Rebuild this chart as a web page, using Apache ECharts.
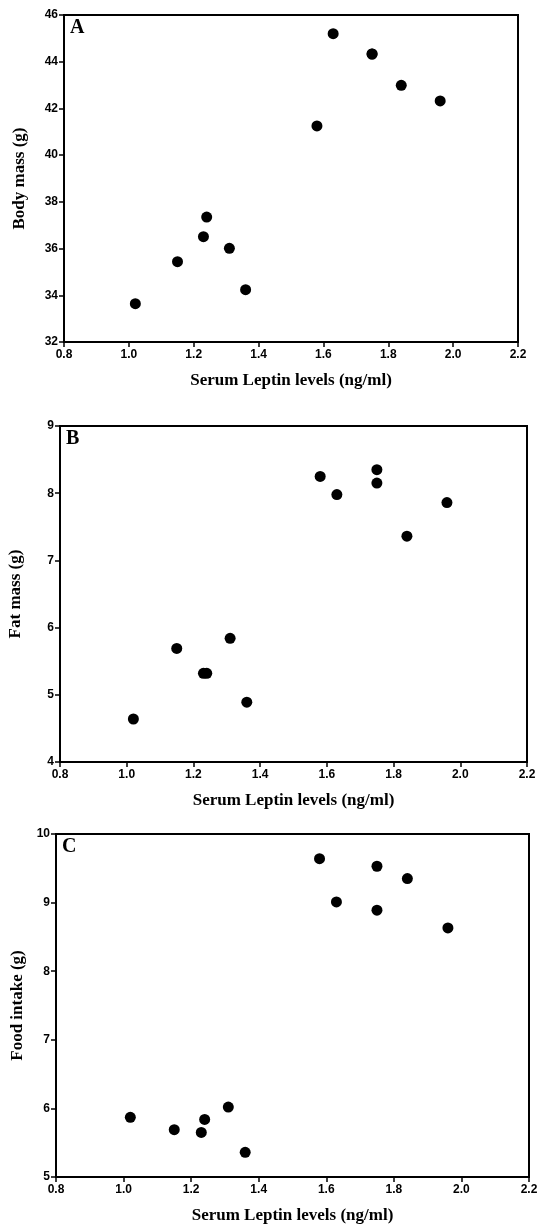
<!DOCTYPE html>
<html>
<head>
<meta charset="utf-8">
<script src="https://cdn.jsdelivr.net/npm/echarts@6/dist/echarts.min.js"></script>
<style>
  html, body { margin: 0; padding: 0; background: #fff; }
  #chart { width: 543px; height: 1225px; }
</style>
</head>
<body>
<div id="chart"></div>
<script>
const leptin = [1.02, 1.15, 1.23, 1.24, 1.31, 1.36, 1.58, 1.63, 1.75, 1.75, 1.84, 1.96]
const bodyMass = [33.64, 35.44, 36.51, 37.35, 36.01, 34.24, 41.25, 45.2, 44.33, 44.33, 42.99, 42.32]
const fatMass = [4.64, 5.69, 5.32, 5.32, 5.84, 4.89, 8.25, 7.98, 8.35, 8.15, 7.36, 7.86]
const foodIntake = [5.87, 5.69, 5.65, 5.84, 6.02, 5.36, 9.64, 9.01, 9.53, 8.89, 9.35, 8.63]

const xTitle = 'Serum Leptin levels (ng/ml)'
const panels = [
  { letter: 'A', yName: 'Body mass (g)', values: bodyMass, yMin: 32, yMax: 46, yStep: 2 },
  { letter: 'B', yName: 'Fat mass (g)', values: fatMass, yMin: 4, yMax: 9, yStep: 1 },
  { letter: 'C', yName: 'Food intake (g)', values: foodIntake, yMin: 5, yMax: 10, yStep: 1 },
]

const boxes = [
  { left: 64, top: 15, width: 454, height: 327 },
  { left: 60, top: 426, width: 467, height: 336 },
  { left: 56, top: 834, width: 473, height: 343 },
]

const tickFont = { color: '#000', fontFamily: 'Liberation Sans, Arial', fontWeight: 'bold', fontSize: 12 }
const titleFont = { color: '#000', fontFamily: 'Liberation Serif, Times New Roman', fontWeight: 'bold', fontSize: 17 }
const axisLine = { show: true, onZero: false, lineStyle: { color: '#000', width: 2 } }
const axisTick = { show: true, inside: false, length: 5, lineStyle: { color: '#000', width: 1.5 } }

const myChart = echarts.init(document.getElementById('chart'))

const option = {
  backgroundColor: '#fff',
  animation: false,
  grid: boxes.map(b => ({
    ...b,
    outerBoundsMode: 'none',
    containLabel: false,
    show: true,
    borderColor: '#000',
    borderWidth: 2,
    backgroundColor: 'transparent',
  })),
  xAxis: panels.map((p, i) => ({
    type: 'value',
    gridIndex: i,
    min: 0.8,
    max: 2.2,
    interval: 0.2,
    name: xTitle,
    nameLocation: 'middle',
    nameGap: 30,
    nameTextStyle: titleFont,
    axisLine,
    axisTick,
    splitLine: { show: false },
    axisLabel: { ...tickFont, margin: 7, formatter: v => v.toFixed(1) },
  })),
  yAxis: panels.map((p, i) => ({
    type: 'value',
    gridIndex: i,
    min: p.yMin,
    max: p.yMax,
    interval: p.yStep,
    name: p.yName,
    nameLocation: 'middle',
    nameGap: i === 2 ? 30 : 36,
    nameTextStyle: titleFont,
    axisLine,
    axisTick,
    splitLine: { show: false },
    axisLabel: { ...tickFont, margin: 6 },
  })),
  series: panels.map((p, i) => ({
    type: 'scatter',
    xAxisIndex: i,
    yAxisIndex: i,
    symbol: 'circle',
    symbolSize: 11,
    itemStyle: { color: '#000', opacity: 1 },
    data: leptin.map((x, k) => [x, p.values[k]]),
  })),
  graphic: panels.map((p, i) => ({
    type: 'text',
    left: boxes[i].left + 6,
    top: boxes[i].top + 3,
    style: { text: p.letter, fill: '#000', font: 'bold 20px "Liberation Serif", "Times New Roman", serif' },
  })),
}
myChart.setOption(option, true)
</script>
</body>
</html>
